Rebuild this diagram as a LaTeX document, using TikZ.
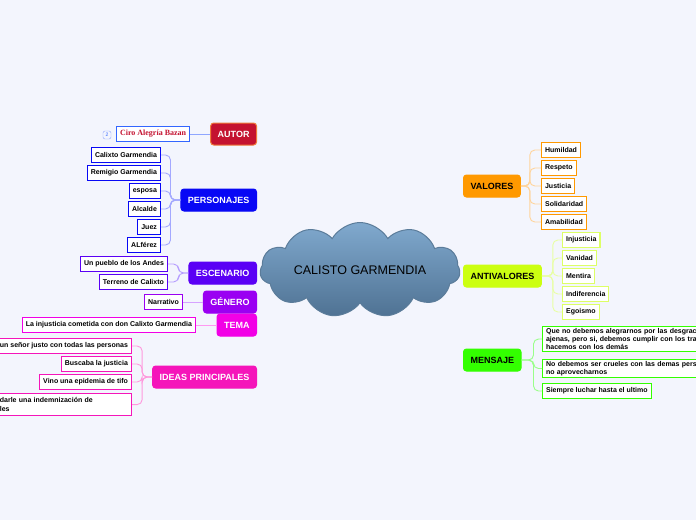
\documentclass[tikz,border=0pt]{standalone}
\usepackage{fontspec}
\setmainfont{Liberation Sans}
\newfontfamily\serifbold{Liberation Serif}
\usepackage{tikz}
\usetikzlibrary{shapes.symbols, backgrounds}
\definecolor{PageBg}{HTML}{F3F5FD}
\definecolor{CloudTop}{HTML}{80A9CE}
\definecolor{CloudBottom}{HTML}{4F7293}
\definecolor{CloudEdge}{HTML}{5B7C9A}
\definecolor{AutorRed}{HTML}{C41230}
\definecolor{AutorEdge}{HTML}{F07A3A}
\definecolor{AutorLine}{HTML}{3366FF}
\definecolor{AutorTwig}{HTML}{8FA6FF}
\definecolor{PersBlue}{HTML}{0808F5}
\definecolor{PersTwig}{HTML}{A3A8FF}
\definecolor{EscViolet}{HTML}{5A00F5}
\definecolor{EscTwig}{HTML}{B59CFF}
\definecolor{GenPurple}{HTML}{9A00F2}
\definecolor{GenTwig}{HTML}{D6A3FF}
\definecolor{TemaMagenta}{HTML}{F200E6}
\definecolor{TemaTwig}{HTML}{FF99F2}
\definecolor{IdeasPink}{HTML}{F515BA}
\definecolor{IdeasTwig}{HTML}{FF99DD}
\definecolor{ValOrange}{HTML}{FF9900}
\definecolor{ValTwig}{HTML}{FFD49C}
\definecolor{AntiLime}{HTML}{CCFF11}
\definecolor{AntiEdge}{HTML}{DDFF66}
\definecolor{AntiTwig}{HTML}{E8FFA3}
\definecolor{MensGreen}{HTML}{33FF00}
\definecolor{MensTwig}{HTML}{99FF88}

\begin{document}
\begin{tikzpicture}[x=1pt, y=-1pt,
    mainbox/.style={rounded corners=3pt, minimum height=22pt, inner xsep=7pt,
      line width=1pt, font=\fontsize{9}{10}\selectfont\bfseries, text=white},
    leafbox/.style={draw, fill=white, minimum height=15pt, inner xsep=3.5pt,
      inner ysep=2pt, line width=1.2pt, font=\fontsize{7}{8.5}\selectfont\bfseries},
    trunk/.style={line width=1.1pt},
    twig/.style={line width=0.9pt, rounded corners=5pt}]

  % page
  \useasboundingbox (0,0) rectangle (696,520);
  \fill[PageBg] (0,0) rectangle (696,520);

  % central topic
  \node[cloud, cloud puffs=11, cloud puff arc=120, cloud ignores aspect,
    minimum width=200pt, minimum height=95pt, inner sep=0pt,
    top color=CloudTop, bottom color=CloudBottom, draw=CloudEdge, line width=1pt,
    font=\fontsize{12.5}{13}\selectfont] (cloud) at (360,270) {CALISTO GARMENDIA};

  % main topics, left side
  \node[mainbox, fill=AutorRed, draw=AutorEdge, anchor=east] (autor) at (257,134) {AUTOR};
  \node[mainbox, fill=PersBlue, draw=PersBlue, anchor=east] (pers) at (257,200) {PERSONAJES};
  \node[mainbox, fill=EscViolet, draw=EscViolet, anchor=east] (esc) at (257,273) {ESCENARIO};
  \node[mainbox, fill=GenPurple, draw=GenPurple, anchor=east] (gen) at (257,302) {GÉNERO};
  \node[mainbox, fill=TemaMagenta, draw=TemaMagenta, anchor=east] (tema) at (257,325) {TEMA};
  \node[mainbox, fill=IdeasPink, draw=IdeasPink, anchor=east] (ideas) at (257,377) {IDEAS PRINCIPALES};

  % main topics, right side
  \node[mainbox, fill=ValOrange, draw=ValOrange, text=black, anchor=west] (val) at (463,186) {VALORES};
  \node[mainbox, fill=AntiLime, draw=AntiLime, text=black, anchor=west] (anti) at (463,276) {ANTIVALORES};
  \node[mainbox, fill=MensGreen, draw=MensGreen, text=black, anchor=west] (mens) at (463,360) {MENSAJE};

  % trunk lines, behind the cloud
  \begin{scope}[on background layer]
    \draw[trunk, AutorLine] (autor.east) .. controls +(22,0) and +(-5,-60) .. (cloud.155);
    \draw[trunk, PersBlue] (pers.east) .. controls +(18,0) and +(-4,-20) .. (cloud.152);
    \draw[trunk, EscViolet!70!white] (esc.east) -- (cloud.west);
    \draw[trunk, GenPurple!65!white] (gen.east) .. controls +(12,0) and +(-8,8) .. (cloud.200);
    \draw[trunk, TemaMagenta] (tema.east) .. controls +(18,0) and +(-6,14) .. (cloud.208);
    \draw[trunk, IdeasPink] (ideas.east) .. controls +(22,0) and +(-6,30) .. (cloud.212);
    \draw[trunk, ValOrange] (val.west) .. controls +(-16,0) and +(4,-30) .. (cloud.20);
    \draw[trunk, AntiEdge] (anti.west) -- (cloud.east);
    \draw[trunk, MensGreen!80!white] (mens.west) .. controls +(-16,0) and +(4,30) .. (cloud.-25);
  \end{scope}

  % AUTOR
  \node[leafbox, draw=AutorLine, line width=0.8pt, anchor=east, text=AutorRed,
    font=\fontsize{8}{9}\serifbold\bfseries] (ciro) at (190,134) {Ciro Alegría Bazan};
  \node[draw=AutorTwig, rounded corners=2pt, minimum size=8pt, inner sep=0pt,
    text=AutorLine, font=\fontsize{5}{5}\selectfont] (badge) at (107,135) {2};
  \draw[twig, AutorTwig] (autor.west) -- (ciro.east);

  % PERSONAJES
  \foreach \n/\txt/\yy in {1/Calixto Garmendia/155, 2/Remigio Garmendia/173,
      3/esposa/191, 4/Alcalde/209, 5/Juez/227, 6/ALférez/245}{
    \node[leafbox, draw=PersBlue, anchor=east] (pers\n) at (161,\yy) {\txt};
    \draw[twig, PersTwig] (pers.west) -- ++(-10,0) |- (pers\n.east);
  }

  % ESCENARIO
  \foreach \n/\txt/\yy in {1/Un pueblo de los Andes/264, 2/Terreno de Calixto/282}{
    \node[leafbox, draw=EscViolet, anchor=east] (esc\n) at (168,\yy) {\txt};
    \draw[twig, EscTwig] (esc.west) -- ++(-10,0) |- (esc\n.east);
  }

  % GÉNERO and TEMA
  \node[leafbox, draw=GenPurple, anchor=east] (gen1) at (183,302) {Narrativo};
  \draw[twig, GenTwig] (gen.west) -- (gen1.east);
  \node[leafbox, draw=TemaMagenta, anchor=east] (tema1) at (196,325)
    {La injusticia cometida con don Calixto Garmendia};
  \draw[twig, TemaTwig] (tema.west) -- (tema1.east);

  % IDEAS PRINCIPALES
  \node[leafbox, draw=IdeasPink, anchor=east] (ideas1)
    at (132,346) {un señor justo con todas las personas};
  \node[leafbox, draw=IdeasPink, anchor=east] (ideas2) at (132,364) {Buscaba la justicia};
  \node[leafbox, draw=IdeasPink, anchor=east] (ideas3) at (132,382) {Vino una epidemia de tifo};
  \node[leafbox, draw=IdeasPink, anchor=north east, text width=128pt, align=left,
    minimum height=22pt] (ideas4) at (132,393) {darle una indemnización de\\les};
  \foreach \n in {1,...,4}{
    \draw[twig, IdeasTwig] (ideas.west) -- ++(-10,0) |- (ideas\n.east);
  }

  % VALORES
  \foreach \n/\txt/\yy in {1/Humildad/150, 2/Respeto/168, 3/Justicia/186,
      4/Solidaridad/204, 5/Amabilidad/222}{
    \node[leafbox, draw=ValOrange, anchor=west] (val\n) at (541,\yy) {\txt};
    \draw[twig, ValTwig] (val.east) -- ++(9,0) |- (val\n.west);
  }

  % ANTIVALORES
  \foreach \n/\txt/\yy in {1/Injusticia/240, 2/Vanidad/258, 3/Mentira/276,
      4/Indiferencia/294, 5/Egoismo/312}{
    \node[leafbox, draw=AntiEdge, anchor=west] (anti\n) at (562,\yy) {\txt};
    \draw[twig, AntiTwig] (anti.east) -- ++(11,0) |- (anti\n.west);
  }

  % MENSAJE
  \node[leafbox, draw=MensGreen, anchor=west, text width=190pt, align=left,
    inner ysep=1.5pt, font=\fontsize{7}{8.2}\selectfont\bfseries] (mens1)
    at (542,339) {Que no debemos alegrarnos por las desgraci\\ajenas, pero si, debemos cumplir con los tra\\hacemos con los demás};
  \node[leafbox, draw=MensGreen, anchor=west, text width=190pt, align=left,
    inner ysep=1.5pt, font=\fontsize{7}{8.2}\selectfont\bfseries] (mens2)
    at (542,368.5) {No debemos ser crueles con las demas perso\\no aprovecharnos};
  \node[leafbox, draw=MensGreen, anchor=west] (mens3) at (542,391) {Siempre luchar hasta el ultimo};
  \foreach \n in {1,2,3}{
    \draw[twig, MensTwig] (mens.east) -- ++(12,0) |- (mens\n.west);
  }
\end{tikzpicture}
\end{document}
